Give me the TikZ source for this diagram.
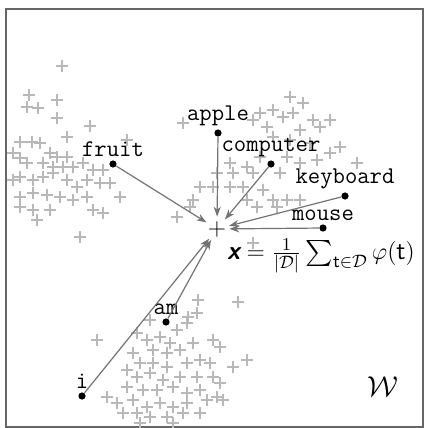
\documentclass[tikz,border=0pt]{standalone}
\usepackage{amsmath,amssymb}
\usepackage{fontspec}
\usetikzlibrary{positioning,arrows.meta}

\begin{document}
\begin{tikzpicture}[x=0.5pt,y=-0.5pt,
  dot/.style={circle, fill=black, inner sep=0pt, minimum size=3.6pt},
  word/.style={font=\ttfamily\large, inner sep=1pt},
  vec/.style={draw=black!55, line width=0.6pt, -{Stealth[length=5pt,width=3.6pt]}},
  cross/.style={draw=black!28, line width=0.55pt}]
\useasboundingbox (0,0) rectangle (424,428);
\draw[black!60, line width=0.7pt] (6,9) rectangle (423,427);

% the space W, crowded with the other words
\foreach \px/\py in {62/66,29/95,27/107,38/108,57/100,57/118,90/126,20/142,32/142,
    40/143,67/137,50/153,57/157,67/157,13/153,20/158,27/163,43/163,53/167,63/167,
    73/167,83/163,93/170,103/170,13/180,20/177,33/180,43/177,53/173,67/180,77/187,
    87/180,100/183,110/183,120/197,20/197,33/193,47/195,60/197,73/200,87/197,20/207,
    33/210,50/210,93/210,103/213,37/220,80/237,127/140,
    290/97,303/103,260/113,273/110,283/117,293/113,313/120,330/120,183/123,253/120,
    267/127,300/130,320/127,273/137,290/140,310/143,330/153,340/147,230/163,247/167,
    260/157,287/157,300/163,317/160,357/163,217/173,233/173,253/173,280/173,200/187,
    213/187,230/187,243/187,263/190,273/200,287/200,300/200,247/200,257/207,277/207,
    193/200,177/217,190/207,253/243,
    198/300,238/302,188/317,197/313,187/323,177/330,150/320,137/333,147/340,160/337,
    170/343,180/350,193/343,97/340,133/353,153/350,167/353,213/340,220/347,140/363,
    153/363,167/367,187/363,200/360,210/363,233/367,247/360,127/370,137/377,150/373,
    163/380,180/377,197/377,213/377,220/383,127/387,143/390,157/390,173/387,187/393,
    200/390,217/397,107/397,117/403,133/400,147/407,160/403,173/407,187/403,207/400,
    223/400,123/413,137/413,150/417,167/417,183/413,200/413,140/423,173/423}
  \draw[cross] (\px-6,\py) -- (\px+6,\py) (\px,\py-6) -- (\px,\py+6);

% the mean vector
\node[circle, inner sep=0pt, minimum size=8pt, font=\large] (mean) at (217,229) {$+$};
\node[anchor=west, font=\fontsize{13}{15}\selectfont] (formula) at (220,256)
  {$\text{\sffamily\bfseries\itshape x} = \frac{1}{|\mathcal{D}|}\sum_{\mathsf{t}\in\mathcal{D}}\varphi(\mathsf{t})$};

% the words of the document
\node[dot] (apple) at (218,133) {};
\node[dot] (fruit) at (113,164) {};
\node[dot] (computer) at (271,164) {};
\node[dot] (keyboard) at (345,196) {};
\node[dot] (mouse) at (323,228) {};
\node[dot] (am) at (166,322) {};
\node[dot] (i) at (82,396) {};

\node[word, above=0.5pt of apple] {apple};
\node[word, above=0.5pt of fruit] {fruit};
\node[word, above=0.5pt of computer] {computer};
\node[word, above=0.5pt of keyboard] {keyboard};
\node[word, above=0.5pt of mouse] {mouse};
\node[word, above=0.5pt of am] {am};
\node[word, above=0.5pt of i] {i};

\foreach \w in {apple,fruit,computer,keyboard,mouse,am,i}
  \draw[vec] (\w) -- (mean);

\node[font=\Large] (space) at (383,387) {$\mathcal{W}$};
\end{tikzpicture}
\end{document}
